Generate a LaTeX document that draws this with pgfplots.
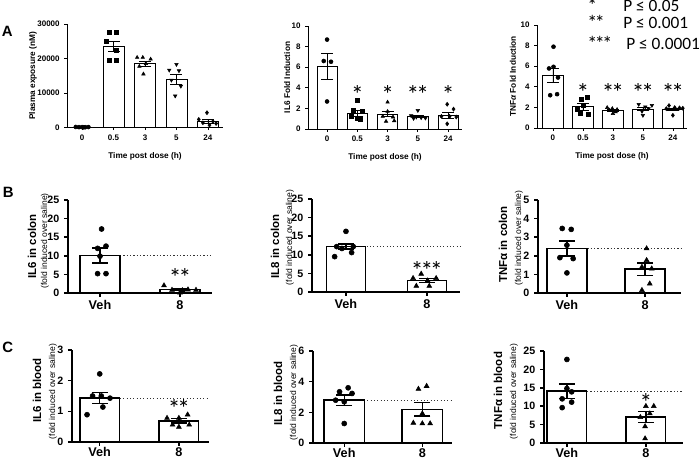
\documentclass[border=0pt]{standalone}
\usepackage{fontspec}
\setmainfont{Liberation Sans}
\newfontfamily\calfont{Carlito}
\usepackage{pgfplots}
\pgfplotsset{compat=1.18}
\tikzset{
  sublbl/.style={rotate=90, font=\fontsize{6.4}{7}\selectfont, anchor=center},
  starlbl/.style={font=\calfont\fontsize{19}{19}\selectfont, anchor=north, inner sep=0pt},
}
\newcommand{\stA}{*}
\newcommand{\stB}{*\kern-0.12em*}
\newcommand{\stC}{*\kern-0.12em*\kern-0.12em*}
\pgfplotsset{
  gp/.style={scale only axis, anchor=south west, axis x line*=bottom, axis y line*=left,
    axis line style={-}, tick align=outside, clip=false,
    /pgf/number format/assume math mode=true, ylabel style={anchor=center}},
  gpA/.style={gp, major tick length=2pt,
    axis line style={line width=0.6pt}, tick style={line width=0.6pt, black},
    tick label style={font=\bfseries\fontsize{6}{7}\selectfont},
    label style={font=\bfseries\fontsize{6.2}{7}\selectfont},
    xtick={0,1,2,3,4}, xticklabels={0,0.5,3,5,24},
    xlabel={Time post dose (h)},
    xlabel style={at={(axis description cs:0.5,-0.275)}, anchor=center}, ymin=0},
  gpB/.style={gp, major tick length=3pt,
    axis line style={line width=1.1pt}, tick style={line width=1.1pt, black},
    tick label style={font=\bfseries\fontsize{8}{9}\selectfont},
    xtick={0,1}, xticklabels={Veh,8},
    xticklabel style={font=\bfseries\fontsize{9.5}{10}\selectfont, yshift=1pt},
    ylabel style={font=\bfseries\fontsize{8.6}{9}\selectfont}, ymin=0},
  gpC/.style={gpB, xticklabel style={yshift=1.2pt}},
  barA/.style={ybar, bar width=0.67, fill=white, draw=black, line width=0.6pt,
    error bars/y dir=both, error bars/y explicit,
    error bars/error bar style={line width=0.6pt, black, solid},
    error bars/error mark options={rotate=90, mark size=4.5pt, line width=0.6pt, black}},
  barB/.style={ybar, bar width=0.5, fill=white, draw=black, line width=1.1pt,
    error bars/y dir=both, error bars/y explicit,
    error bars/error bar style={line width=1.1pt, black, solid},
    error bars/error mark options={rotate=90, mark size=6pt, line width=1.1pt, black}},
  ptA/.style={only marks, black, mark size=1.5pt},
  ptB/.style={only marks, black, mark size=1.9pt},
  refl/.style={black!80, line width=0.9pt, dash pattern=on 0.9pt off 1.6pt},
}
\begin{document}
\begin{tikzpicture}[x=0.75pt,y=0.75pt]
\useasboundingbox (0,0) rectangle (700,459);

% ---------- Panel A1 ----------
\begin{axis}[gpA, at={(50.25pt,248.625pt)}, width=117pt, height=77.6pt,
  xmin=-0.48, xmax=4.48, ymax=30000, ytick={0,10000,20000,30000},
  scaled y ticks=false, yticklabel style={/pgf/number format/fixed, /pgf/number format/1000 sep={}},
  ylabel={Plasma exposure (nM)}, ylabel style={at={(axis description cs:-0.218,0.5)}}]
\addplot[barA] coordinates {(0,0) +- (0,0) (1,23600) +- (0,1400) (2,18500) +- (0,800) (3,14030) +- (0,1500) (4,1750) +- (0,600)};
\addplot[ptA, mark=*] coordinates {(-0.2,150) (-0.1,100) (0,120) (0.1,80) (0.2,130) (0.05,60)};
\addplot[ptA, mark=square*] coordinates {(0.86,27700) (1.1,27600) (0.78,24900) (1.1,22500) (0.86,19600) (1.1,19600)};
\addplot[ptA, mark=triangle*] coordinates {(1.75,20300) (1.93,20300) (2.18,19800) (2.03,18500) (1.82,17700) (1.95,15500)};
\addplot[ptA, mark=triangle*, mark options={rotate=180}] coordinates {(3.0,18300) (2.77,16650) (3.08,16460) (2.84,13730) (3.14,11980) (2.96,9150)};
\addplot[ptA, mark=diamond*] coordinates {(3.97,4290) (3.71,2340) (4.16,1750) (3.84,1360) (4.26,1170) (4.05,680)};
\end{axis}

% ---------- Panel A2 ----------
\begin{axis}[gpA, at={(231pt,247.5pt)}, width=115.5pt, height=77.25pt,
  xmin=-0.63, xmax=4.46, ymax=10, ytick={0,2,4,6,8,10},
  ylabel={IL6 Fold Induction}, ylabel style={at={(axis description cs:-0.136,0.5)}}]
\addplot[barA] coordinates {(0,6.1) +- (0,1.27) (1,1.54) +- (0,0.27) (2,1.45) +- (0,0.25) (3,1.2) +- (0,0.1) (4,1.32) +- (0,0.27)};
\addplot[ptA, mark=*] coordinates {(0,8.68) (-0.11,6.6) (0.13,6.53) (0,2.67)};
\addplot[ptA, mark=square*] coordinates {(1,2.8) (0.87,1.8) (1.15,1.7) (0.8,1.2) (1.0,1.0) (1.1,0.9)};
\addplot[ptA, mark=triangle*] coordinates {(2,2.6) (2,1.7) (1.84,1.22) (2.18,1.16) (1.95,0.74) (2.22,0.8)};
\addplot[ptA, mark=triangle*, mark options={rotate=180}] coordinates {(3,1.8) (2.78,1.29) (2.95,1.16) (3.11,1.1) (3.25,1.06) (2.86,1.03)};
\addplot[ptA, mark=diamond*] coordinates {(3.97,2.4) (4.18,1.93) (3.78,1.22) (4.05,1.22) (4.27,1.16) (3.97,0.5)};
\node[starlbl] at (axis cs:1,4.21) {\stA};
\node[starlbl] at (axis cs:2,4.21) {\stA};
\node[starlbl] at (axis cs:3,4.21) {\stB};
\node[starlbl] at (axis cs:4,4.21) {\stA};
\end{axis}

% ---------- Panel A3 ----------
\begin{axis}[gpA, at={(402.75pt,248.25pt)}, width=112.5pt, height=77.25pt,
  xmin=-0.53, xmax=4.47, ymax=10, ytick={0,2,4,6,8,10},
  ylabel={TNF\textit{α} Fold Induction}, ylabel style={at={(axis description cs:-0.16,0.5)}}]
\addplot[barA] coordinates {(0,5.13) +- (0,0.68) (1,2.05) +- (0,0.3) (2,1.72) +- (0,0.1) (3,1.85) +- (0,0.18) (4,1.85) +- (0,0.1)};
\addplot[ptA, mark=*] coordinates {(0.02,7.89) (0.02,5.94) (-0.13,5.78) (0.17,4.9) (-0.09,3.18) (0.14,3.28)};
\addplot[ptA, mark=square*] coordinates {(1.14,3.0) (0.94,2.8) (1.01,2.2) (0.82,1.8) (0.9,1.4) (1.19,1.3)};
\addplot[ptA, mark=triangle*] coordinates {(1.81,1.98) (1.98,1.88) (2.14,1.79) (1.89,1.72) (2.09,1.56) (2.0,1.4)};
\addplot[ptA, mark=triangle*, mark options={rotate=180}] coordinates {(2.86,2.3) (3.3,2.2) (3.08,2.05) (3.19,1.88) (2.97,1.62) (3.0,1.23)};
\addplot[ptA, mark=diamond*] coordinates {(3.87,2.18) (4.06,1.98) (4.22,1.95) (4.33,1.92) (3.78,1.88) (4.0,1.23)};
\node[starlbl] at (axis cs:1,4.32) {\stA};
\node[starlbl] at (axis cs:2,4.32) {\stB};
\node[starlbl] at (axis cs:3,4.32) {\stB};
\node[starlbl] at (axis cs:4,4.32) {\stB};
\end{axis}

% ---------- Panel B1 ----------
\begin{axis}[gpB, at={(51pt,124.5pt)}, width=108pt, height=69.75pt,
  xmin=-0.4, xmax=1.4, ymax=25, ytick={0,5,10,15,20,25},
  ylabel={IL6 in colon}, ylabel style={at={(axis description cs:-0.25,0.5)}}]
\addplot[refl] coordinates {(-0.25,10.07) (1.4,10.07)};
\addplot[barB] coordinates {(0,10.07) +- (0,2.0) (1,0.9) +- (0,0.25)};
\addplot[ptB, mark=*] coordinates {(0.02,17.2) (0.075,12.6) (-0.03,12.0) (0,9.9) (-0.03,5.2) (0.075,5.2)};
\addplot[ptB, mark=triangle*, mark size=2.1pt] coordinates {(0.8,2.0) (0.9,0.8) (1.0,0.1) (1.1,0.9) (1.2,0.8) (1.03,0.7)};
\node[sublbl] at (axis description cs:-0.16,0.56) {(fold induced over saline)};
\node[starlbl] at (axis cs:1,6.56) {\stB};
\end{axis}

% ---------- Panel B2 ----------
\begin{axis}[gpB, at={(234pt,125.25pt)}, width=111pt, height=69.75pt,
  xmin=-0.42, xmax=1.41, ymax=25, ytick={0,5,10,15,20,25},
  ylabel={IL8 in colon}, ylabel style={at={(axis description cs:-0.25,0.49)}}]
\addplot[refl] coordinates {(-0.24,12.2) (1.41,12.2)};
\addplot[barB, bar width=0.48] coordinates {(0,12.2) +- (0,0.7) (1,3.06) +- (0,0.5)};
\addplot[ptB, mark=*] coordinates {(0,16.3) (-0.115,12.2) (0.09,12.2) (-0.05,11.7) (0.07,10.6) (-0.14,9.5)};
\addplot[ptB, mark=triangle*, mark size=2.1pt] coordinates {(0.93,4.86) (0.83,3.7) (1.115,3.7) (1.01,3.06) (0.87,1.6) (1.03,1.6)};
\node[sublbl] at (axis description cs:-0.149,0.586) {(fold induced over saline)};
\node[starlbl] at (axis cs:1,8.18) {\stC};
\end{axis}

% ---------- Panel B3 ----------
\begin{axis}[gpB, at={(403.5pt,124.5pt)}, width=107.25pt, height=69.75pt,
  xmin=-0.37, xmax=1.46, ymax=5, ytick={0,1,2,3,4,5},
  ylabel={TNFα in colon}, ylabel style={at={(axis description cs:-0.245,0.52)}}]
\addplot[refl] coordinates {(-0.25,2.39) (1.46,2.39)};
\addplot[barB, bar width=0.51] coordinates {(0,2.39) +- (0,0.4) (1,1.28) +- (0,0.33)};
\addplot[ptB, mark=*] coordinates {(-0.06,3.47) (0.055,3.42) (0,2.57) (-0.09,1.9) (0.08,1.85) (0,1.08)};
\addplot[ptB, mark=triangle*, mark size=2.1pt] coordinates {(1.02,2.39) (1.02,1.76) (0.96,1.4) (1.085,1.31) (1.06,0.5) (0.96,0.15)};
\node[sublbl] at (axis description cs:-0.133,0.59) {(fold induced over saline)};
\end{axis}

% ---------- Panel C1 ----------
\begin{axis}[gpC, at={(54pt,12.75pt)}, width=102.75pt, height=69pt,
  xmin=-0.35, xmax=1.38, ymax=3, ytick={0,1,2,3},
  ylabel={IL6 in blood}, ylabel style={at={(axis description cs:-0.255,0.56)}}]
\addplot[refl] coordinates {(-0.25,1.43) (1.38,1.43)};
\addplot[barB] coordinates {(0,1.43) +- (0,0.18) (1,0.69) +- (0,0.07)};
\addplot[ptB, mark=*] coordinates {(0,2.22) (-0.09,1.5) (0.02,1.5) (0.13,1.43) (0.04,1.14) (-0.16,0.89)};
\addplot[ptB, mark=triangle*, mark size=2.1pt] coordinates {(1.11,0.89) (0.85,0.78) (1.0,0.78) (0.92,0.56) (1.0,0.49) (1.13,0.56)};
\node[sublbl] at (axis description cs:-0.139,0.55) {(fold induced over saline)};
\node[starlbl] at (axis cs:1,1.40) {\stB};
\end{axis}

% ---------- Panel C2 ----------
\begin{axis}[gpC, at={(234.75pt,12pt)}, width=104.25pt, height=69pt,
  xmin=-0.4, xmax=1.38, ymax=6, ytick={0,2,4,6},
  ylabel={IL8 in blood}, ylabel style={at={(axis description cs:-0.252,0.54)}}]
\addplot[refl] coordinates {(-0.26,2.79) (1.38,2.79)};
\addplot[barB, bar width=0.52] coordinates {(0,2.79) +- (0,0.33) (1,2.2) +- (0,0.45)};
\addplot[ptB, mark=*] coordinates {(0.05,3.6) (-0.06,3.34) (0.1,3.23) (-0.11,2.79) (0,2.69) (0,1.27)};
\addplot[ptB, mark=triangle*, mark size=2.1pt] coordinates {(1.055,3.71) (0.95,3.52) (1.0,1.92) (0.885,1.31) (1.0,1.27) (1.1,1.27)};
\node[sublbl] at (axis description cs:-0.137,0.55) {(fold induced over saline)};
\end{axis}

% ---------- Panel C3 ----------
\begin{axis}[gpC, at={(408pt,12pt)}, width=104.25pt, height=69pt,
  xmin=-0.29, xmax=1.47, ymax=25, ytick={0,5,10,15,20,25},
  ylabel={TNFα in blood}, ylabel style={at={(axis description cs:-0.33,0.57)}}]
\addplot[refl] coordinates {(-0.25,14.1) (1.47,14.1)};
\addplot[barB] coordinates {(0,14.1) +- (0,1.95) (1,7.07) +- (0,1.5)};
\addplot[ptB, mark=*] coordinates {(0,22.7) (0,14.8) (0.06,13.9) (-0.06,12.0) (0.06,11.1) (-0.06,9.6)};
\addplot[ptB, mark=triangle*, mark size=2.1pt] coordinates {(1.0,10.0) (1.1,10.0) (0.93,7.0) (1.05,8.0) (0.99,4.5) (0.99,1.2)};
\node[sublbl] at (axis description cs:-0.216,0.56) {(fold induced over saline)};
\node[starlbl] at (axis cs:1,13.4) {\stA};
\end{axis}

% ---------- Panel letters and legend ----------
\node[anchor=base west, inner sep=0pt, font=\bfseries\fontsize{11.2}{12}\selectfont] at (1.5,422) {A};
\node[anchor=base west, inner sep=0pt, font=\bfseries\fontsize{11.2}{12}\selectfont] at (2.5,261) {B};
\node[anchor=base west, inner sep=0pt, font=\bfseries\fontsize{11.2}{12}\selectfont] at (2,106) {C};
\node[anchor=base west, inner sep=0pt, font=\calfont\fontsize{15}{15}\selectfont] at (587,446) {\stA};
\node[anchor=base west, inner sep=0pt, font=\calfont\fontsize{15}{15}\selectfont] at (587,429.5) {\stB};
\node[anchor=base west, inner sep=0pt, font=\calfont\fontsize{15}{15}\selectfont] at (587,408) {\stC};
\node[anchor=base west, inner sep=0pt, font=\calfont\fontsize{13}{13}\selectfont] at (623,447.3) {P ≤ 0.05};
\node[anchor=base west, inner sep=0pt, font=\calfont\fontsize{13}{13}\selectfont] at (623,430.7) {P ≤ 0.001};
\node[anchor=base west, inner sep=0pt, font=\calfont\fontsize{13}{13}\selectfont] at (626,409) {P ≤ 0.0001};
\end{tikzpicture}
\end{document}
